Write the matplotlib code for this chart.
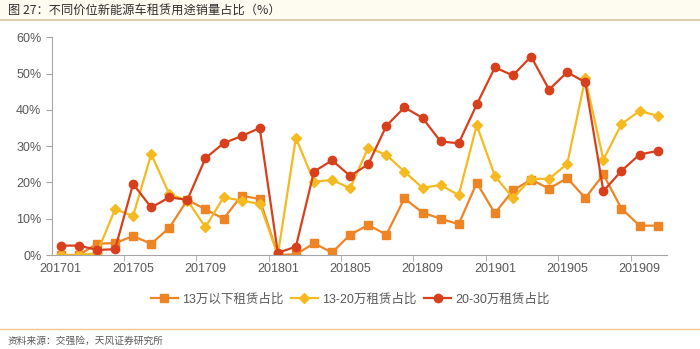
import matplotlib
matplotlib.use("Agg")
import matplotlib.pyplot as plt
from matplotlib.lines import Line2D
from matplotlib.patches import Rectangle
from matplotlib.ticker import PercentFormatter

plt.rcParams['font.family'] = ['Liberation Sans', 'Noto Sans CJK SC', 'DejaVu Sans']

# months 201701 .. 201910
months = [f"{y}{m:02d}" for y in (2017, 2018, 2019) for m in range(1, 13)][:34]

below13 = [0, 0, 3.1, 3.3, 5.2, 3.1, 7.5, 15.2, 12.6, 10.0, 16.4, 15.4,
           0, 0.2, 3.2, 0.7, 5.6, 8.3, 5.6, 15.6, 11.7, 10.0, 8.5, 19.9,
           11.5, 17.8, 20.8, 18.3, 21.2, 15.7, 22.2, 12.8, 8.1, 8.1]
r13_20 = [0, 0, 0.5, 12.6, 10.8, 27.8, 16.8, 15.0, 7.7, 15.9, 15.0, 14.1,
          0, 32.3, 20.2, 20.7, 18.4, 29.6, 27.6, 23.0, 18.5, 19.3, 16.5, 35.8,
          21.8, 15.7, 21.0, 21.0, 25.1, 48.7, 26.3, 36.1, 39.7, 38.4]
r20_30 = [2.6, 2.6, 1.4, 1.6, 19.6, 13.1, 15.9, 15.2, 26.7, 30.8, 32.8, 35.0,
          0.6, 2.3, 23.0, 26.1, 21.8, 25.0, 35.6, 40.7, 37.8, 31.3, 30.8, 41.5,
          51.7, 49.5, 54.7, 45.6, 50.4, 47.6, 17.6, 23.2, 27.7, 28.7]

names = ["13万以下租赁占比", "13-20万租赁占比", "20-30万租赁占比"]
colors = ["#EE8424", "#F5BA22", "#D8401D"]
markers = ["s", "D", "o"]
msizes = [5.2, 4.6, 6.0]

fig = plt.figure(figsize=(7, 3.49), dpi=100)
ax = fig.add_axes([0.0739, 0.2693, 0.8785, 0.6237])

x = list(range(len(months)))
for vals, name, c, mk, ms in zip([below13, r13_20, r20_30], names, colors, markers, msizes):
    ax.plot(x, [v / 100 for v in vals], color=c, marker=mk, markersize=ms,
            linewidth=1.6, label=name)

ax.set_xlim(-0.5, len(months) - 0.5)
ax.set_ylim(0, 0.6)
ax.set_yticks([i / 10 for i in range(7)])
ax.yaxis.set_major_formatter(PercentFormatter(1.0, decimals=0))
ax.set_xticks(x[::4])
ax.set_xticklabels(months[::4])
ax.set_xticks([3.5 + 4 * k for k in range(8)], minor=True)
ax.tick_params(axis='x', which='major', length=0, pad=6)
ax.tick_params(axis='x', which='minor', length=4, color='#A6A6A6')
ax.tick_params(axis='y', length=4, color='#A6A6A6')
ax.tick_params(labelsize=9, labelcolor='#595959')

for s in ('top', 'right'):
    ax.spines[s].set_visible(False)
for s in ('left', 'bottom'):
    ax.spines[s].set_color('#A6A6A6')

ax.legend(loc='center', bbox_to_anchor=(0.5, 0.142), bbox_transform=fig.transFigure,
          ncol=3, frameon=False, fontsize=9, handlelength=2.2, columnspacing=0.6,
          handletextpad=0.3, labelcolor='#595959')

# title band and separators
fig.add_artist(Rectangle((0, 1 - 19 / 349), 1, 19 / 349, transform=fig.transFigure,
                         facecolor='#FEFBF1', edgecolor='none', zorder=0))
fig.add_artist(Line2D([0, 1], [1 - 20 / 349] * 2, color='#D8C3A0', linewidth=1.2))
fig.add_artist(Line2D([0, 1], [1 - 329 / 349] * 2, color='#F0C890', linewidth=1.0))

fig.text(8 / 700, 1 - 10 / 349, "图 27：不同价位新能源车租赁用途销量占比（%）",
         fontsize=8.8, color='#2E2E2E', va='center', fontweight='medium',
         family=['Noto Sans CJK SC', 'DejaVu Sans'])
fig.text(8 / 700, 1 - 341 / 349, "资料来源：交强险，天风证券研究所",
         fontsize=7, color='#595959', va='center',
         family=['Noto Sans CJK SC', 'DejaVu Sans'])

fig.savefig("out.png", dpi=100)
